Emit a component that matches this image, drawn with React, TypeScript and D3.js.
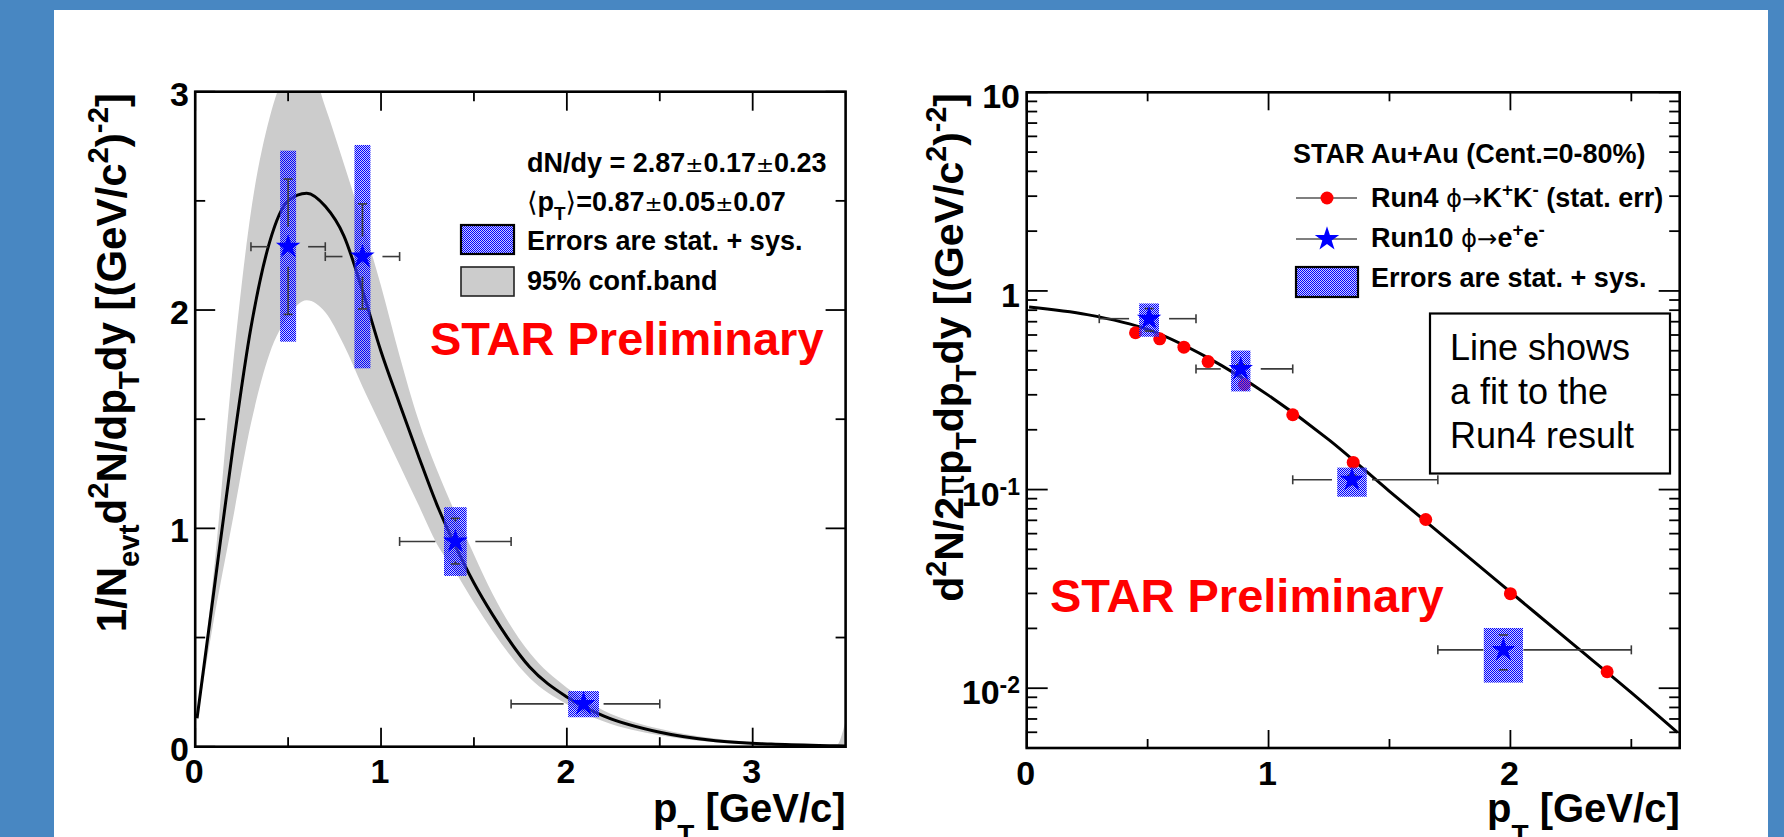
import * as d3 from 'd3'

const W = 1784
const H = 837
const FONT = '"Liberation Sans", Arial, Helvetica, sans-serif'
const SYM = '"DejaVu Sans", sans-serif'

// ---------- left panel: Run10 phi -> e+e- spectrum (linear) ----------
const leftPt = [0.5, 0.9, 1.4, 2.09]
const leftYield = [2.29, 2.245, 0.94, 0.196]
const leftPtLo = [0.3, 0.7, 1.1, 1.7]
const leftPtHi = [0.7, 1.1, 1.7, 2.5]
const leftStatLo = [1.98, 2.005, 0.837, 0.182]
const leftStatHi = [2.6, 2.486, 1.046, 0.21]
const leftSysLo = [1.855, 1.733, 0.782, 0.135]
const leftSysHi = [2.73, 2.756, 1.097, 0.255]
const leftSysDx = [0.043, 0.043, 0.061, 0.083]

// fit curve and its 95% confidence band
const bandPt = [0.01, 0.1, 0.2, 0.3, 0.4, 0.5, 0.6, 0.7, 0.8, 0.9, 1.0, 1.1, 1.2, 1.3, 1.4, 1.5, 1.6, 1.8, 2.0, 2.2, 2.5, 2.8, 3.1, 3.45, 3.5]
const bandFit = [0.13, 0.71, 1.35, 1.92, 2.31, 2.5, 2.535, 2.475, 2.34, 2.09, 1.81, 1.57, 1.335, 1.11, 0.92, 0.75, 0.605, 0.365, 0.228, 0.14, 0.066, 0.027, 0.012, 0.004, 0.003]
const bandUp = [0.14, 0.8, 1.72, 2.45, 2.88, 3.1, 3.15, 2.93, 2.67, 2.4, 2.11, 1.79, 1.5, 1.27, 1.07, 0.88, 0.7, 0.43, 0.27, 0.165, 0.082, 0.037, 0.016, 0.006, 0.12]
const bandLo = [0.12, 0.58, 1.03, 1.48, 1.8, 1.97, 2.045, 1.99, 1.84, 1.65, 1.47, 1.29, 1.11, 0.93, 0.8, 0.66, 0.53, 0.315, 0.195, 0.115, 0.052, 0.02, 0.008, 0.002, 0]

const leftXTicks = [0, 1, 2, 3]
const leftXMinor = [0.5, 1.5, 2.5]
const leftYTicks = [0, 1, 2, 3]
const leftYMinor = [0.5, 1.5, 2.5]

// ---------- right panel: Run4 vs Run10 (log) ----------
const run4Pt = [0.45, 0.55, 0.65, 0.75, 0.9, 1.1, 1.35, 1.65, 2.0, 2.4]
const run4Yield = [0.616, 0.574, 0.521, 0.441, 0.338, 0.238, 0.137, 0.0707, 0.0299, 0.0121]

const run10Pt = [0.506, 0.885, 1.345, 1.971]
const run10Yield = [0.725, 0.405, 0.112, 0.0156]
const run10PtLo = [0.3, 0.7, 1.1, 1.7]
const run10PtHi = [0.7, 1.1, 1.7, 2.5]
const run10StatLo = [0.628, 0.385, 0.106, 0.01238]
const run10StatHi = [0.815, 0.425, 0.118, 0.01853]
const run10SysLo = [0.588, 0.312, 0.092, 0.01067]
const run10SysHi = [0.865, 0.501, 0.129, 0.0201]
const run10SysDx = [0.041, 0.04, 0.061, 0.081]

const fitPt = [0.01, 0.25, 0.5, 0.75, 1.0, 1.25, 1.5, 1.75, 2.0, 2.25, 2.5, 2.69]
const fitYield = [0.83, 0.76, 0.64, 0.46, 0.298, 0.178, 0.098, 0.0547, 0.0305, 0.017, 0.0095, 0.0060]

const rightXTicks = [0, 1, 2]
const rightXMinor = [0.5, 1.5, 2.5]
const rightYTicks = [0.01, 0.1, 1, 10]
const rightYLabels = [['10', '-2'], ['10', '-1'], ['1', ''], ['10', '']]
const rightYMinor = [0.005, 0.006, 0.007, 0.008, 0.009, 0.02, 0.03, 0.04, 0.05, 0.06, 0.07, 0.08, 0.09,
  0.2, 0.3, 0.4, 0.5, 0.6, 0.7, 0.8, 0.9, 2, 3, 4, 5, 6, 7, 8, 9]

// scales
const lx = d3.scaleLinear().domain([0, 3.5]).range([195.2, 845.6])
const ly = d3.scaleLinear().domain([0, 3]).range([746.7, 91.7])
const rx = d3.scaleLinear().domain([0, 2.7]).range([1026.7, 1679.7])
const ry = d3.scaleLog().domain([0.005, 10]).range([748, 92.3])

type Part = { t: string; s?: 'sub' | 'sup'; f?: string; w?: string; k?: number }

function Rich({ x, y, parts, size, anchor = 'start', rotate = false, weight = 'bold', fill = '#000', sub = 0.32, sup = 0.42 }:
  { x: number; y: number; parts: Part[]; size: number; anchor?: string; rotate?: boolean; weight?: string; fill?: string; sub?: number; sup?: number }) {
  let cur = 0
  const spans = parts.map((p, i) => {
    const target = p.s === 'sub' ? size * sub : p.s === 'sup' ? -size * sup : 0
    const dy = target - cur
    cur = target
    const fs = (p.s ? size * 0.7 : size) * (p.k ?? 1)
    return (
      <tspan key={i} dy={dy} fontSize={fs} fontFamily={p.f ?? FONT} fontWeight={p.w ?? weight}>{p.t}</tspan>
    )
  })
  const tr = rotate ? `translate(${x},${y}) rotate(-90)` : `translate(${x},${y})`
  return (
    <text transform={tr} textAnchor={anchor} fill={fill} style={{ whiteSpace: 'pre' }}>{spans}</text>
  )
}

function ErrBar({ cx, cy, x0, x1, y0, y1, gap = 20, cap = 4.5 }:
  { cx: number; cy: number; x0?: number; x1?: number; y0?: number; y1?: number; gap?: number; cap?: number }) {
  const st = { stroke: '#3a3a3a', strokeWidth: 1.6 }
  const out: JSX.Element[] = []
  if (x0 !== undefined && x1 !== undefined) {
    if (x0 < cx - gap) out.push(<line key="hl" x1={x0} x2={cx - gap} y1={cy} y2={cy} {...st} />)
    if (x1 > cx + gap) out.push(<line key="hr" x1={cx + gap} x2={x1} y1={cy} y2={cy} {...st} />)
    out.push(<line key="cl" x1={x0} x2={x0} y1={cy - cap} y2={cy + cap} {...st} />)
    out.push(<line key="cr" x1={x1} x2={x1} y1={cy - cap} y2={cy + cap} {...st} />)
  }
  if (y0 !== undefined && y1 !== undefined) {
    if (y0 > cy + gap) out.push(<line key="vb" x1={cx} x2={cx} y1={cy + gap} y2={y0} {...st} />)
    if (y1 < cy - gap) out.push(<line key="vt" x1={cx} x2={cx} y1={y1} y2={cy - gap} {...st} />)
    out.push(<line key="cb" x1={cx - cap} x2={cx + cap} y1={y0} y2={y0} {...st} />)
    out.push(<line key="ct" x1={cx - cap} x2={cx + cap} y1={y1} y2={y1} {...st} />)
  }
  return <g>{out}</g>
}

const star = d3.symbol().type(d3.symbolStar).size(185)()

function Frame({ x0, x1, y0, y1, xMaj, xMin, yMaj, yMin, xl, yl }:
  { x0: number; x1: number; y0: number; y1: number; xMaj: number[]; xMin: number[]; yMaj: number[]; yMin: number[]; xl: [number, number]; yl: [number, number] }) {
  const st = { stroke: '#000', strokeWidth: 1.8 }
  return (
    <g>
      {xMaj.map((x, i) => (
        <g key={'xM' + i}>
          <line x1={x} x2={x} y1={y1} y2={y1 - xl[0]} {...st} />
          <line x1={x} x2={x} y1={y0} y2={y0 + xl[0]} {...st} />
        </g>
      ))}
      {xMin.map((x, i) => (
        <g key={'xm' + i}>
          <line x1={x} x2={x} y1={y1} y2={y1 - xl[1]} {...st} />
          <line x1={x} x2={x} y1={y0} y2={y0 + xl[1]} {...st} />
        </g>
      ))}
      {yMaj.map((y, i) => (
        <g key={'yM' + i}>
          <line x1={x0} x2={x0 + yl[0]} y1={y} y2={y} {...st} />
          <line x1={x1} x2={x1 - yl[0]} y1={y} y2={y} {...st} />
        </g>
      ))}
      {yMin.map((y, i) => (
        <g key={'ym' + i}>
          <line x1={x0} x2={x0 + yl[1]} y1={y} y2={y} {...st} />
          <line x1={x1} x2={x1 - yl[1]} y1={y} y2={y} {...st} />
        </g>
      ))}
      <rect x={x0} y={y0} width={x1 - x0} height={y1 - y0} fill="none" stroke="#000" strokeWidth={2.6} />
    </g>
  )
}

export default function App() {
  const idx = bandPt.map((_, i) => i)
  const bandArea = d3.area<number>()
    .x(i => lx(bandPt[i]))
    .y0(i => ly(bandLo[i]))
    .y1(i => ly(bandUp[i]))
    .curve(d3.curveMonotoneX)(idx) ?? ''
  const leftFit = d3.line<number>()
    .x(i => lx(bandPt[i]))
    .y(i => ly(bandFit[i]))
    .curve(d3.curveMonotoneX)(idx) ?? ''
  const rightFit = d3.line<number>()
    .x(i => rx(fitPt[i]))
    .y(i => ry(fitYield[i]))
    .curve(d3.curveMonotoneX)(fitPt.map((_, i) => i)) ?? ''

  const [L0, L1] = lx.range()
  const [LB, LT] = ly.range()
  const [R0, R1] = rx.range()
  const [RB, RT] = ry.range()

  return (
    <div style={{ position: 'absolute', left: 0, top: 0 }}>
      <svg width={W} height={H} style={{ display: 'block' }}>
        <defs>
          <pattern id="sysfill" width={2} height={2} patternUnits="userSpaceOnUse">
            <rect width={2} height={2} fill="#9a9aff" fillOpacity={0.5} />
            <rect x={0} y={0} width={1} height={1} fill="#0000ff" />
            <rect x={1} y={1} width={1} height={1} fill="#0000ff" />
          </pattern>
          <clipPath id="clipL"><rect x={L0} y={LT} width={L1 - L0} height={LB - LT} /></clipPath>
          <clipPath id="clipR"><rect x={R0} y={RT} width={R1 - R0} height={RB - RT} /></clipPath>
        </defs>

        <rect width={W} height={H} fill="#4887c2" />
        <rect x={54} y={10} width={1714} height={H - 10} fill="#ffffff" />

        {/* ---------------- left panel ---------------- */}
        <g clipPath="url(#clipL)">
          <path d={bandArea} fill="#cccccc" />
          <path d={leftFit} fill="none" stroke="#000" strokeWidth={3} />
        </g>
        {leftPt.map((p, i) => (
          <rect key={'lb' + i} x={lx(p - leftSysDx[i])} y={ly(leftSysHi[i])}
            width={lx(p + leftSysDx[i]) - lx(p - leftSysDx[i])} height={ly(leftSysLo[i]) - ly(leftSysHi[i])}
            fill="url(#sysfill)" />
        ))}
        {leftPt.map((p, i) => (
          <ErrBar key={'le' + i} cx={lx(p)} cy={ly(leftYield[i])} x0={lx(leftPtLo[i])} x1={lx(leftPtHi[i])}
            y0={ly(leftStatLo[i])} y1={ly(leftStatHi[i])} />
        ))}
        {leftPt.map((p, i) => (
          <path key={'ls' + i} d={star ?? ''} transform={`translate(${lx(p)},${ly(leftYield[i])})`} fill="#0000ff" />
        ))}

        <Frame x0={L0} x1={L1} y0={LT} y1={LB}
          xMaj={leftXTicks.map(lx)} xMin={leftXMinor.map(lx)}
          yMaj={leftYTicks.map(ly)} yMin={leftYMinor.map(ly)} xl={[19, 9.5]} yl={[20, 10]} />

        {leftYTicks.map(t => (
          <text key={'lyt' + t} x={189} y={ly(t) + 14} textAnchor="end" fontFamily={FONT} fontWeight="bold" fontSize={34}>{t}</text>
        ))}
        {leftXTicks.map(t => (
          <text key={'lxt' + t} x={lx(t) - 1} y={783} textAnchor="middle" fontFamily={FONT} fontWeight="bold" fontSize={34}>{t}</text>
        ))}

        <Rich x={L1} y={822} anchor="end" size={40} sub={0.55}
          parts={[{ t: 'p' }, { t: 'T', s: 'sub' }, { t: ' [GeV/c]' }]} />
        <Rich x={126} y={93} rotate anchor="end" size={42}
          parts={[{ t: '1/N' }, { t: 'evt', s: 'sub' }, { t: 'd' }, { t: '2', s: 'sup' }, { t: 'N/dp' }, { t: 'T', s: 'sub' },
            { t: 'dy [(GeV/c' }, { t: '2', s: 'sup' }, { t: ')' }, { t: '-2', s: 'sup' }, { t: ']' }]} />

        {/* left legend */}
        <Rich x={527} y={172} size={27}
          parts={[{ t: 'dN/dy = 2.87' }, { t: '±', f: SYM, w: 'normal', k: 0.8 }, { t: '0.17' }, { t: '±', f: SYM, w: 'normal', k: 0.8 }, { t: '0.23' }]} />
        <Rich x={527} y={211} size={27}
          parts={[{ t: '⟨', f: SYM, w: 'normal' }, { t: 'p' }, { t: 'T', s: 'sub' }, { t: '⟩', f: SYM, w: 'normal' }, { t: '=0.87' },
            { t: '±', f: SYM, w: 'normal', k: 0.8 }, { t: '0.05' }, { t: '±', f: SYM, w: 'normal', k: 0.8 }, { t: '0.07' }]} />
        <rect x={461} y={225} width={53} height={29} fill="url(#sysfill)" stroke="#000" strokeWidth={2.2} />
        <text x={527} y={250} fontFamily={FONT} fontWeight="bold" fontSize={27}>Errors are stat. + sys.</text>
        <rect x={461} y={267} width={53} height={29} fill="#cccccc" stroke="#222" strokeWidth={1.6} />
        <text x={527} y={290} fontFamily={FONT} fontWeight="bold" fontSize={27}>95% conf.band</text>

        <text x={430} y={355} fontFamily={FONT} fontWeight="bold" fontSize={47} fill="#ff0000">STAR Preliminary</text>

        {/* ---------------- right panel ---------------- */}
        <g clipPath="url(#clipR)">
          <path d={rightFit} fill="none" stroke="#000" strokeWidth={3} />
        </g>
        {run4Pt.map((p, i) => (
          <circle key={'rc' + i} cx={rx(p)} cy={ry(run4Yield[i])} r={6.5} fill="#ff0000" />
        ))}
        {run10Pt.map((p, i) => (
          <rect key={'rb' + i} x={rx(p - run10SysDx[i])} y={ry(run10SysHi[i])}
            width={rx(p + run10SysDx[i]) - rx(p - run10SysDx[i])} height={ry(run10SysLo[i]) - ry(run10SysHi[i])}
            fill="url(#sysfill)" />
        ))}
        {run10Pt.map((p, i) => (
          <ErrBar key={'re' + i} cx={rx(p)} cy={ry(run10Yield[i])} x0={rx(run10PtLo[i])} x1={rx(run10PtHi[i])}
            y0={ry(run10StatLo[i])} y1={ry(run10StatHi[i])} />
        ))}
        {run10Pt.map((p, i) => (
          <path key={'rs' + i} d={star ?? ''} transform={`translate(${rx(p)},${ry(run10Yield[i])})`} fill="#0000ff" />
        ))}

        <Frame x0={R0} x1={R1} y0={RT} y1={RB}
          xMaj={rightXTicks.map(rx)} xMin={rightXMinor.map(rx)}
          yMaj={rightYTicks.map(ry)} yMin={rightYMinor.map(ry)} xl={[18, 9]} yl={[21, 10.5]} />

        {rightYTicks.map((t, i) => (
          <text key={'ryt' + t} x={1020} y={ry(t) + 16} textAnchor="end" fontFamily={FONT} fontWeight="bold" fontSize={34}>
            <tspan>{rightYLabels[i][0]}</tspan>
            {rightYLabels[i][1] && <tspan dy={-11} fontSize={23}>{rightYLabels[i][1]}</tspan>}
          </text>
        ))}
        {rightXTicks.map(t => (
          <text key={'rxt' + t} x={rx(t) - 1} y={785} textAnchor="middle" fontFamily={FONT} fontWeight="bold" fontSize={34}>{t}</text>
        ))}

        <Rich x={R1} y={822} anchor="end" size={40} sub={0.55}
          parts={[{ t: 'p' }, { t: 'T', s: 'sub' }, { t: ' [GeV/c]' }]} />
        <Rich x={963} y={93} rotate anchor="end" size={41}
          parts={[{ t: 'd' }, { t: '2', s: 'sup' }, { t: 'N/2' }, { t: 'π', f: SYM, w: 'normal', k: 0.9 }, { t: 'p' }, { t: 'T', s: 'sub' },
            { t: 'dp' }, { t: 'T', s: 'sub' }, { t: 'dy [(GeV/c' }, { t: '2', s: 'sup' }, { t: ')' }, { t: '-2', s: 'sup' }, { t: ']' }]} />

        {/* right legend */}
        <text x={1293} y={163} fontFamily={FONT} fontWeight="bold" fontSize={27}>STAR Au+Au (Cent.=0-80%)</text>
        <line x1={1296} x2={1357} y1={198} y2={198} stroke="#555" strokeWidth={1.6} />
        <circle cx={1327} cy={198} r={6.5} fill="#ff0000" />
        <Rich x={1371} y={207} size={27}
          parts={[{ t: 'Run4 ' }, { t: 'ϕ→', f: SYM, w: 'normal', k: 0.9 }, { t: 'K' }, { t: '+', s: 'sup' }, { t: 'K' }, { t: '-', s: 'sup' }, { t: ' (stat. err)' }]} />
        <line x1={1296} x2={1357} y1={239} y2={239} stroke="#555" strokeWidth={1.6} />
        <path d={star ?? ''} transform="translate(1327,239)" fill="#0000ff" />
        <Rich x={1371} y={247} size={27}
          parts={[{ t: 'Run10 ' }, { t: 'ϕ→', f: SYM, w: 'normal', k: 0.9 }, { t: 'e' }, { t: '+', s: 'sup' }, { t: 'e' }, { t: '-', s: 'sup' }]} />
        <rect x={1296} y={267} width={62} height={30} fill="url(#sysfill)" stroke="#000" strokeWidth={2.2} />
        <text x={1371} y={287} fontFamily={FONT} fontWeight="bold" fontSize={27}>Errors are stat. + sys.</text>

        <rect x={1430} y={313.5} width={240} height={160} fill="#ffffff" stroke="#000" strokeWidth={2.2} />
        <text fontFamily={FONT} fontSize={36}>
          <tspan x={1450} y={360}>Line shows</tspan>
          <tspan x={1450} y={403.5}>a fit to the</tspan>
          <tspan x={1450} y={448}>Run4 result</tspan>
        </text>

        <text x={1050} y={612} fontFamily={FONT} fontWeight="bold" fontSize={47} fill="#ff0000">STAR Preliminary</text>
      </svg>
    </div>
  )
}
